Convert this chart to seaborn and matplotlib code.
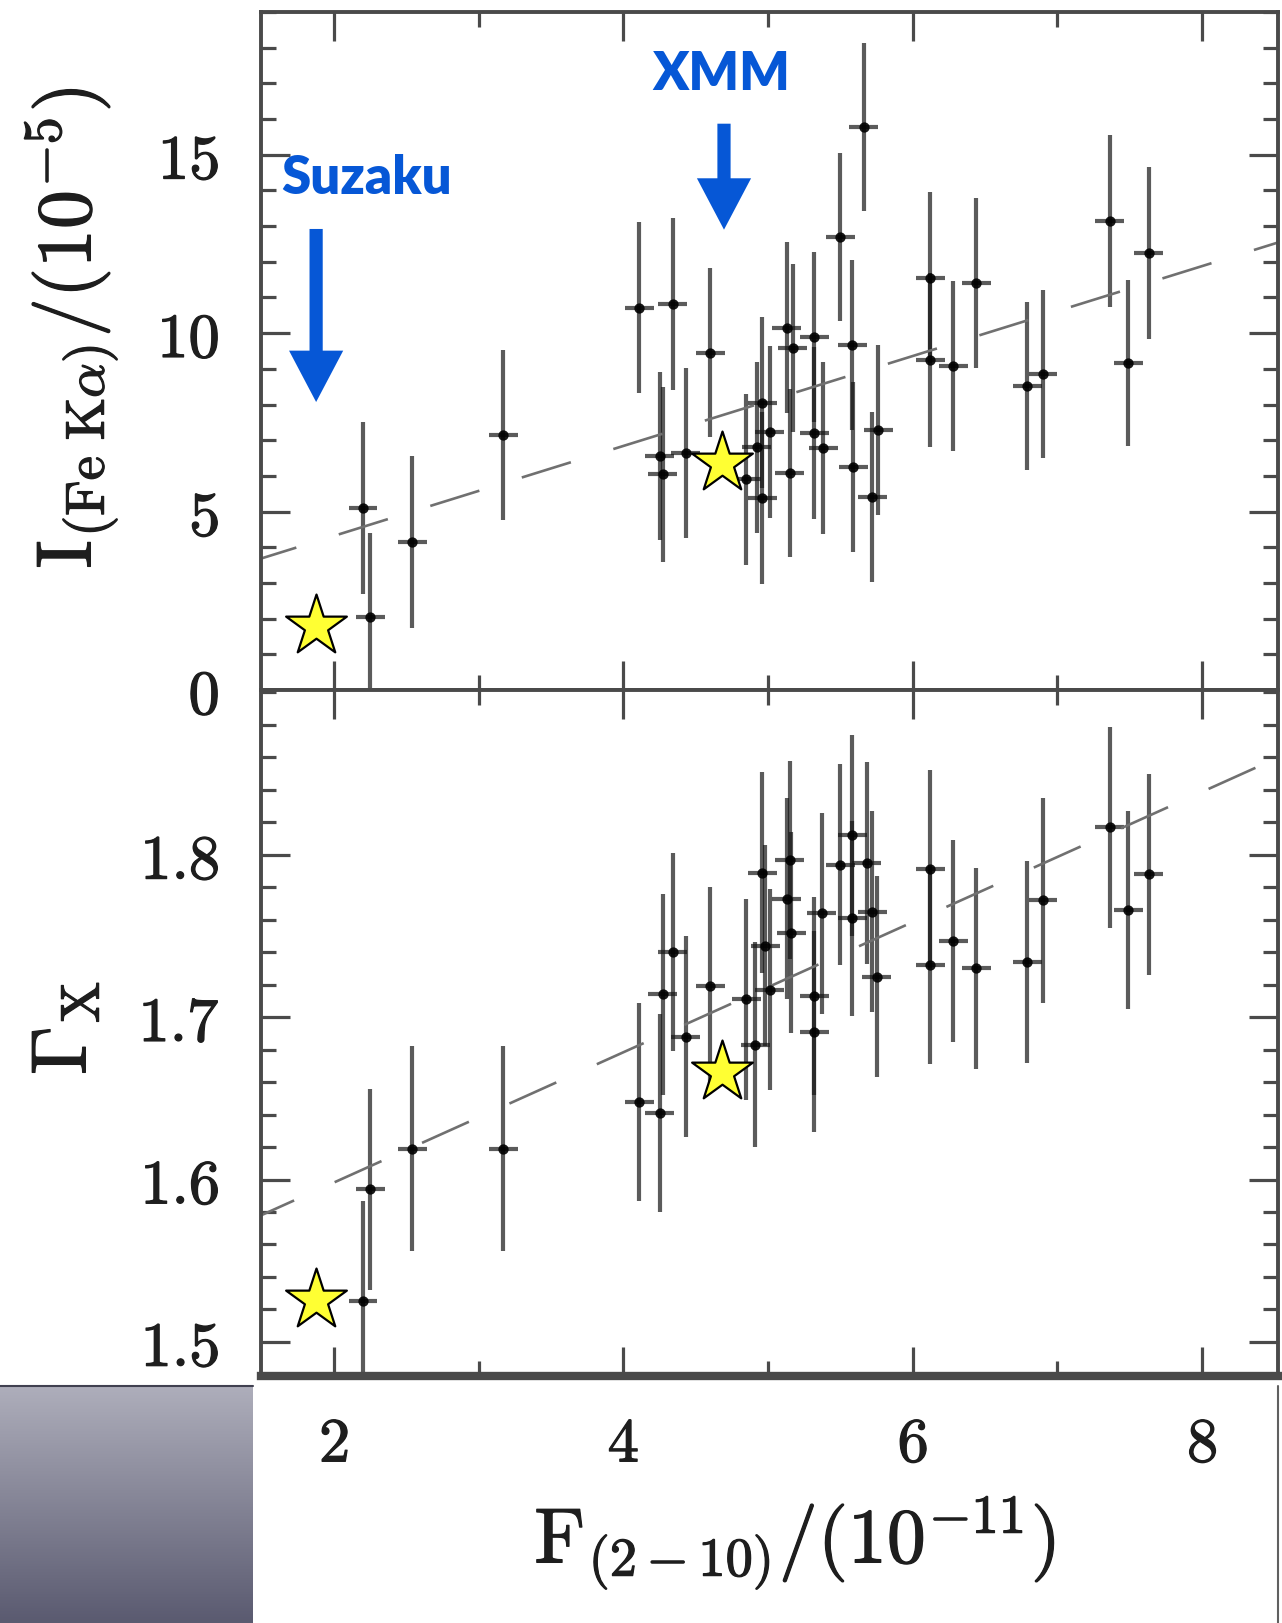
import numpy as np
import pandas as pd
import matplotlib
matplotlib.use("Agg")
import matplotlib.pyplot as plt
import matplotlib.patheffects as pe
from matplotlib.ticker import MultipleLocator, FixedLocator, FuncFormatter
import seaborn as sns

# ---------------- data ----------------
# Fe K-alpha line intensity (1e-5) versus 2-10 keV flux (1e-11)
flux_fe = [2.20, 2.25, 2.54, 3.17, 4.11, 4.25, 4.27, 4.34, 4.43, 4.60, 4.85, 4.92,
           4.96, 4.96, 5.01, 5.13, 5.15, 5.17, 5.32, 5.32, 5.38, 5.50, 5.58, 5.59,
           5.66, 5.72, 5.76, 6.12, 6.12, 6.28, 6.44, 6.79, 6.90, 7.36, 7.49, 7.63]
fe_line = [5.10, 2.05, 4.15, 7.15, 10.71, 6.55, 6.05, 10.82, 6.64, 9.45, 5.90, 6.80,
           8.05, 5.38, 7.23, 10.15, 6.08, 9.59, 9.90, 7.20, 6.78, 12.70, 9.67, 6.25,
           15.77, 5.41, 7.29, 11.55, 9.25, 9.08, 11.41, 8.52, 8.86, 13.15, 9.17, 12.25]
fe_err = [2.40, 2.35, 2.40, 2.38, 2.40, 2.35, 2.45, 2.40, 2.39, 2.37, 2.40, 2.40,
          2.40, 2.40, 2.40, 2.40, 2.35, 2.35, 2.38, 2.40, 2.40, 2.35, 2.38, 2.38,
          2.35, 2.38, 2.38, 2.40, 2.44, 2.38, 2.38, 2.36, 2.35, 2.41, 2.33, 2.40]

# photon index versus 2-10 keV flux
flux_gx = [2.20, 2.25, 2.54, 3.17, 4.11, 4.25, 4.27, 4.34, 4.43, 4.60, 4.85, 4.91,
           4.96, 4.98, 5.01, 5.13, 5.15, 5.16, 5.32, 5.32, 5.37, 5.50, 5.58, 5.58,
           5.68, 5.72, 5.75, 6.12, 6.12, 6.28, 6.44, 6.79, 6.90, 7.36, 7.49, 7.63]
gamma_x = [1.525, 1.594, 1.619, 1.619, 1.648, 1.641, 1.714, 1.740, 1.688, 1.719, 1.711, 1.683,
           1.789, 1.744, 1.717, 1.773, 1.797, 1.752, 1.713, 1.691, 1.764, 1.794, 1.812, 1.761,
           1.795, 1.765, 1.725, 1.791, 1.732, 1.747, 1.730, 1.734, 1.772, 1.817, 1.766, 1.788]
gamma_err = [0.062, 0.062, 0.063, 0.063, 0.061, 0.061, 0.062, 0.061, 0.062, 0.061, 0.062, 0.063,
             0.062, 0.062, 0.062, 0.062, 0.061, 0.062, 0.061, 0.062, 0.062, 0.062, 0.062, 0.060,
             0.062, 0.062, 0.062, 0.061, 0.061, 0.062, 0.062, 0.062, 0.063, 0.062, 0.061, 0.062]
flux_xerr = 0.10

# linear trends (intercept, slope)
fe_fit = (1.80, 1.26)
gx_fit = (1.518, 0.0401)

# highlighted observations
obs_names = ["Suzaku", "XMM"]
obs_flux = [1.876, 4.68]
obs_fe = [1.79, 6.36]
obs_gamma = [1.526, 1.666]

# tick values
fe_ticks = [0, 5, 10, 15]
gx_ticks = [1.5, 1.6, 1.7, 1.8]
flux_ticks = [2, 4, 6, 8]

# ---------------- style ----------------
sns.set_theme(style="ticks")
plt.rcParams["font.family"] = ["DejaVu Serif"]
plt.rcParams["mathtext.fontset"] = "cm"
plt.rcParams["lines.scale_dashes"] = False

W, H = 1282, 1623
fig = plt.figure(figsize=(W / 100, H / 100), dpi=100)
fig.patch.set_facecolor("white")

def frac(x0, y0, x1, y1):
    return [x0 / W, 1 - y1 / H, (x1 - x0) / W, (y1 - y0) / H]

ax_top = fig.add_axes(frac(261, 12, 1278, 690))
ax_bot = fig.add_axes(frac(261, 690, 1278, 1376), sharex=ax_top)

spine_col = "#4a4a4a"
bar_col = "#161616"
blue = "#0657d6"
ink = "#1e1e1e"
heavy = [pe.withStroke(linewidth=0.9, foreground=ink)]

def style_axis(ax):
    ax.set_facecolor("white")
    for s in ax.spines.values():
        s.set_color(spine_col)
        s.set_linewidth(2.8)
    ax.tick_params(which="both", direction="in", top=True, right=True,
                   color=spine_col, width=2.3, labelsize=45, labelcolor=ink, pad=30)
    ax.tick_params(which="major", length=21)
    ax.tick_params(which="minor", length=11)
    ax.xaxis.set_major_locator(FixedLocator(flux_ticks))
    ax.xaxis.set_minor_locator(MultipleLocator(1))

math_fmt = FuncFormatter(lambda v, p: r"$%g$" % round(v, 3))

def draw_panel(ax, x, y, err, fit, xs, ys):
    df = pd.DataFrame({"x": x, "y": y, "err": err})
    ax.errorbar(df["x"], df["y"], yerr=df["err"], xerr=flux_xerr, fmt="none",
                ecolor=bar_col, elinewidth=3.0, alpha=0.7, capsize=0, zorder=2)
    sns.scatterplot(data=df, x="x", y="y", ax=ax, color="black", s=55,
                    linewidth=0, alpha=0.9, zorder=3, legend=False)
    xx = np.linspace(1.4, 8.6, 50)
    sns.lineplot(x=xx, y=fit[0] + fit[1] * xx, ax=ax, color="#707070",
                 linewidth=1.9, zorder=2.5)
    ax.lines[-1].set_dashes((37, 32))
    ax.scatter(xs, ys, marker="*", s=46 ** 2, facecolor="#ffff33",
               edgecolor="black", linewidth=1.6, zorder=5)

draw_panel(ax_top, flux_fe, fe_line, fe_err, fe_fit, obs_flux, obs_fe)
draw_panel(ax_bot, flux_gx, gamma_x, gamma_err, gx_fit, obs_flux, obs_gamma)

for ax in (ax_top, ax_bot):
    style_axis(ax)
    ax.set_xlabel("")
    ax.set_ylabel("")

ax_top.set_xlim(1.495, 8.524)
ax_top.set_ylim(0, 19.0)
ax_top.yaxis.set_major_locator(FixedLocator(fe_ticks))
ax_top.yaxis.set_minor_locator(MultipleLocator(1))
ax_top.yaxis.set_major_formatter(math_fmt)
ax_top.tick_params(axis="x", labelbottom=False)

ax_bot.set_ylim(1.479, 1.9015)
ax_bot.yaxis.set_major_locator(FixedLocator(gx_ticks))
ax_bot.yaxis.set_minor_locator(MultipleLocator(0.02))
ax_bot.yaxis.set_major_formatter(math_fmt)
ax_bot.xaxis.set_major_formatter(math_fmt)
ax_bot.tick_params(axis="x", pad=27)
ax_bot.spines["bottom"].set_linewidth(6)

for ax in (ax_top, ax_bot):
    for lab in ax.get_xticklabels() + ax.get_yticklabels():
        lab.set_path_effects(heavy)

# observation labels and arrows
arrow_top = [12.92, 15.87]
arrow_tip = [8.07, 12.90]
for name, fx, y0, y1 in zip(obs_names, obs_flux, arrow_top, arrow_tip):
    ax_top.annotate("", xy=(fx + (0.015 if name == "XMM" else 0.0), y1),
                    xytext=(fx + (0.015 if name == "XMM" else 0.0), y0),
                    arrowprops=dict(arrowstyle="simple,head_length=0.37,head_width=0.39,tail_width=0.095",
                                    mutation_scale=100, color=blue, lw=0,
                                    shrinkA=0, shrinkB=0), zorder=6)
fig.text(367 / W, 1 - 178 / H, "Suzaku", ha="center", va="center", fontsize=38,
         fontweight="heavy", color=blue, family=["Lato", "DejaVu Sans"])
fig.text(721 / W, 1 - 74 / H, "XMM", ha="center", va="center", fontsize=38,
         fontweight="heavy", color=blue, family=["Lato", "DejaVu Sans"])

# axis titles
fig.text(71 / W, 1 - 328 / H, r"$\mathrm{I}_{(\mathrm{Fe\ K}\alpha)}/(10^{-5})$",
         rotation=90, ha="center", va="center", fontsize=56, color=ink, path_effects=heavy)
fig.text(64 / W, 1 - 1028 / H, r"$\Gamma_{\mathrm{X}}$",
         rotation=90, ha="center", va="center", fontsize=56, color=ink, path_effects=heavy)
fig.text(795 / W, 1 - 1543 / H, r"$\mathrm{F}_{(2-10)}/(10^{-11})$",
         ha="center", va="center", fontsize=56, color=ink, path_effects=heavy)

# slide backdrop below the plot
grad_ax = fig.add_axes(frac(0, 1386, 253, H))
grad = np.linspace(0, 1, 256)[:, None]
cmap = matplotlib.colors.LinearSegmentedColormap.from_list("slide", ["#aeaebb", "#5a5a70"])
grad_ax.imshow(grad, aspect="auto", cmap=cmap, extent=[0, 1, 0, 1], origin="upper")
grad_ax.axis("off")
fig.add_artist(plt.Line2D([0, 253 / W], [1 - 1386 / H] * 2, color="#404050", lw=1.5))
fig.add_artist(plt.Line2D([1278 / W] * 2, [0, 1 - 1386 / H], color="#606060", lw=1.5))

fig.savefig("out.png", dpi=100, facecolor="white")
